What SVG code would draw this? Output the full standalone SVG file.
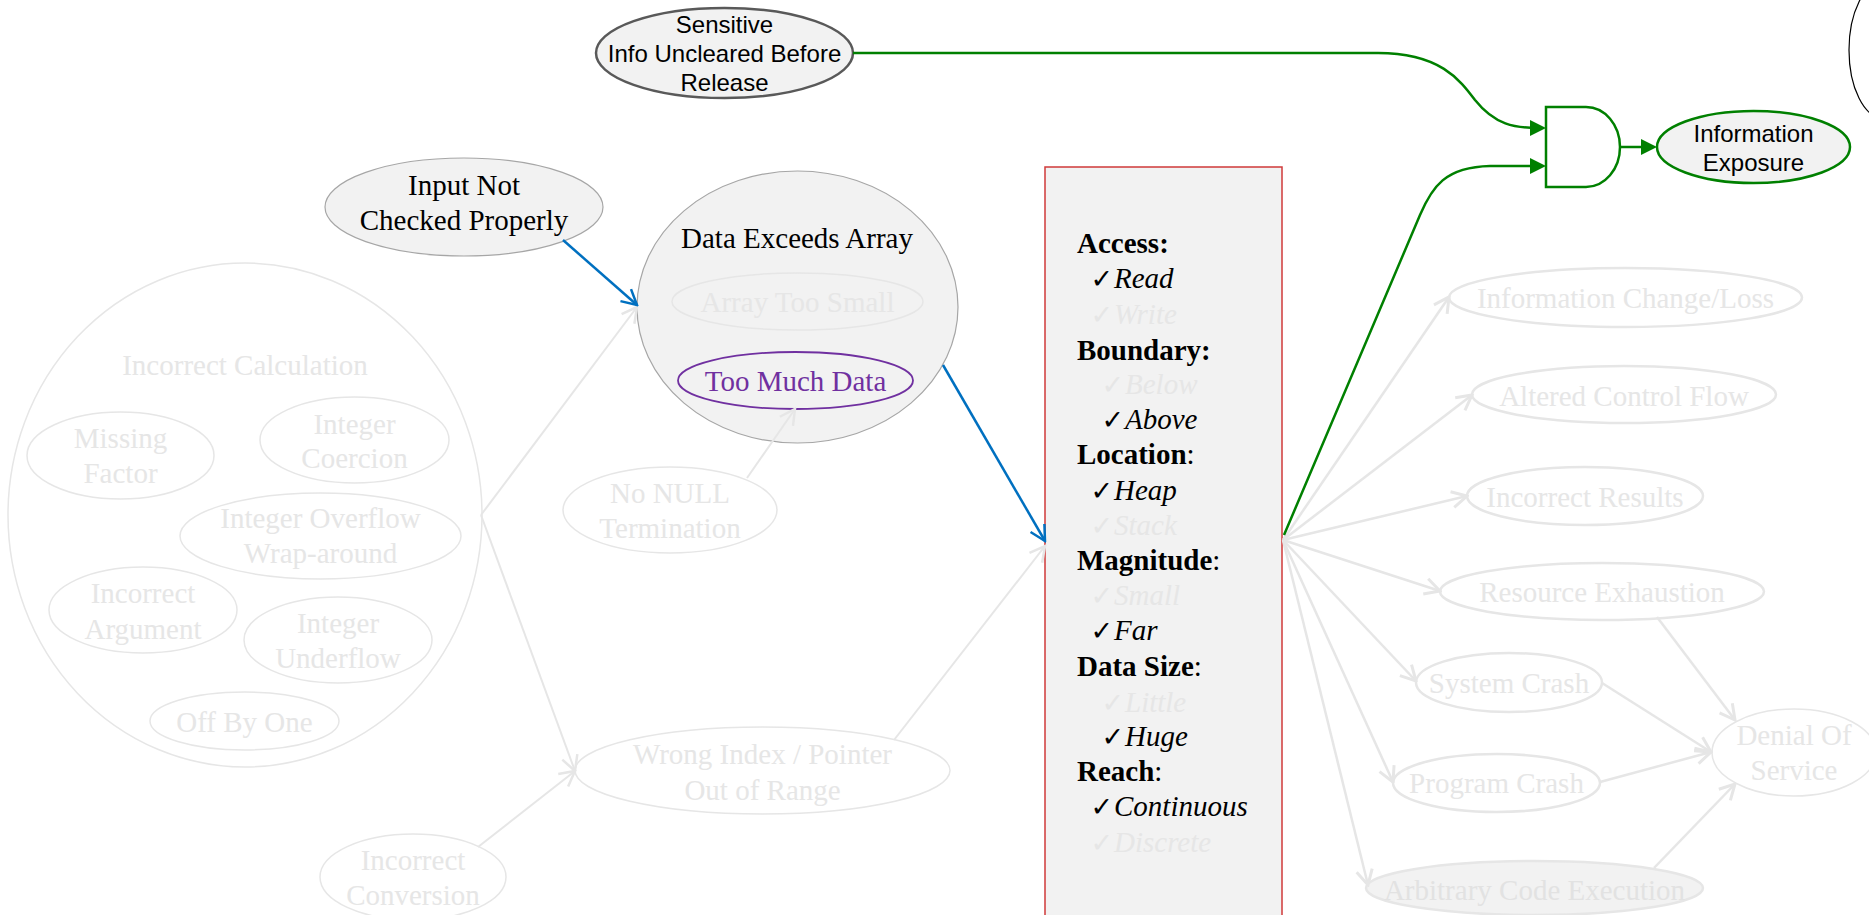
<svg xmlns="http://www.w3.org/2000/svg" width="1869" height="915" viewBox="0 0 1869 915">
<style>
.serif{font-family:"Liberation Serif","Times New Roman",serif;font-size:29px;}
.sans{font-family:"Liberation Sans",Arial,sans-serif;font-size:24px;fill:#000;}
.fadeT{fill:#e6e6e6;}
.fadeE{fill:none;stroke:#e6e6e6;stroke-width:1.5;}
.fadeE2{fill:none;stroke:#e6e6e6;stroke-width:2.5;}
.gl{fill:none;stroke:#e6e6e6;stroke-width:2;marker-end:url(#og);}
.gl2{fill:none;stroke:#e6e6e6;stroke-width:2.5;marker-end:url(#og2);}
.bl{fill:none;stroke:#0070c0;stroke-width:2.5;marker-end:url(#ob);}
.gr{fill:none;stroke:#008000;stroke-width:2.5;}
.grA{marker-end:url(#gf);}
.b{font-weight:bold;}
.i{font-style:italic;}
.chk{font-family:"DejaVu Sans",sans-serif;font-size:27px;text-anchor:end;}
</style>
<defs>
<marker id="og" markerUnits="userSpaceOnUse" markerWidth="20" markerHeight="20" viewBox="0 0 20 20" refX="18" refY="10" orient="auto"><path d="M3,2 L18,10 L3,18" fill="none" stroke="#e6e6e6" stroke-width="2.5"/></marker>
<marker id="og2" markerUnits="userSpaceOnUse" markerWidth="20" markerHeight="20" viewBox="0 0 20 20" refX="18" refY="10" orient="auto"><path d="M3,2 L18,10 L3,18" fill="none" stroke="#e6e6e6" stroke-width="3"/></marker>
<marker id="ob" markerUnits="userSpaceOnUse" markerWidth="20" markerHeight="20" viewBox="0 0 20 20" refX="18" refY="10" orient="auto"><path d="M3,2 L18,10 L3,18" fill="none" stroke="#0070c0" stroke-width="2.5"/></marker>
<marker id="gf" markerUnits="userSpaceOnUse" markerWidth="16" markerHeight="16" viewBox="0 0 16 16" refX="8" refY="8" orient="auto"><path d="M0,0 L16,8 L0,16 Z" fill="#008000"/></marker>
</defs>
<rect width="1869" height="915" fill="#ffffff"/>

<!-- left cluster -->
<g id="incorrect-calculation">
<ellipse cx="245" cy="515" rx="237" ry="252" class="fadeE"/>
<text class="serif fadeT" x="245" y="375" text-anchor="middle">Incorrect Calculation</text>
</g>
<g id="missing-factor">
<ellipse cx="120.5" cy="455.5" rx="93.5" ry="43.5" class="fadeE"/>
<text class="serif fadeT" text-anchor="middle"><tspan x="120.5" y="448">Missing</tspan><tspan x="120.5" y="483">Factor</tspan></text>
</g>
<g id="integer-coercion">
<ellipse cx="354.5" cy="440" rx="94.5" ry="43" class="fadeE"/>
<text class="serif fadeT" text-anchor="middle"><tspan x="354.5" y="434">Integer</tspan><tspan x="354.5" y="468">Coercion</tspan></text>
</g>
<g id="integer-overflow">
<ellipse cx="320.5" cy="536" rx="140.5" ry="43" class="fadeE"/>
<text class="serif fadeT" text-anchor="middle"><tspan x="320.5" y="528">Integer Overflow</tspan><tspan x="320.5" y="563">Wrap-around</tspan></text>
</g>
<g id="incorrect-argument">
<ellipse cx="143" cy="610" rx="94" ry="43" class="fadeE"/>
<text class="serif fadeT" text-anchor="middle"><tspan x="143" y="603">Incorrect</tspan><tspan x="143" y="639">Argument</tspan></text>
</g>
<g id="integer-underflow">
<ellipse cx="338" cy="640" rx="94" ry="43" class="fadeE"/>
<text class="serif fadeT" text-anchor="middle"><tspan x="338" y="633">Integer</tspan><tspan x="338" y="668">Underflow</tspan></text>
</g>
<g id="off-by-one">
<ellipse cx="244.5" cy="721" rx="94.5" ry="29" class="fadeE"/>
<text class="serif fadeT" x="244.5" y="732" text-anchor="middle">Off By One</text>
</g>
<g id="incorrect-conversion">
<ellipse cx="413" cy="877" rx="93" ry="43" class="fadeE"/>
<text class="serif fadeT" text-anchor="middle"><tspan x="413" y="870">Incorrect</tspan><tspan x="413" y="905">Conversion</tspan></text>
</g>
<g id="no-null">
<ellipse cx="670" cy="510" rx="107" ry="43" class="fadeE"/>
<text class="serif fadeT" text-anchor="middle"><tspan x="670" y="503">No NULL</tspan><tspan x="670" y="538">Termination</tspan></text>
</g>
<g id="wrong-index">
<ellipse cx="762.5" cy="770.5" rx="187.5" ry="43.5" class="fadeE"/>
<text class="serif fadeT" text-anchor="middle"><tspan x="762.5" y="764">Wrong Index / Pointer</tspan><tspan x="762.5" y="800">Out of Range</tspan></text>
</g>

<g id="input-not-checked">
<ellipse cx="464" cy="207" rx="139" ry="49" fill="#f2f2f2" stroke="#a6a6a6" stroke-width="1.2"/>
<text class="serif" text-anchor="middle" fill="#000"><tspan x="464" y="195">Input Not</tspan><tspan x="464" y="230">Checked Properly</tspan></text>
</g>

<g id="data-exceeds-array">
<ellipse cx="797.5" cy="307" rx="160.5" ry="136" fill="#f2f2f2" stroke="#a6a6a6" stroke-width="1.2"/>
<text class="serif" x="797" y="248" text-anchor="middle" fill="#000">Data Exceeds Array</text>
<ellipse cx="797.5" cy="301.5" rx="125.5" ry="28.5" class="fadeE"/>
<text class="serif fadeT" x="797.5" y="312" text-anchor="middle">Array Too Small</text>
<ellipse cx="795.5" cy="380.5" rx="117.5" ry="28.5" fill="none" stroke="#7030a0" stroke-width="1.8"/>
<text class="serif" x="795.5" y="391" text-anchor="middle" fill="#7030a0">Too Much Data</text>
</g>

<g id="sensitive-info">
<ellipse cx="724.5" cy="53" rx="128.5" ry="45" fill="#f2f2f2" stroke="#595959" stroke-width="2.5"/>
<text class="sans" text-anchor="middle"><tspan x="724.5" y="33">Sensitive</tspan><tspan x="724.5" y="62">Info Uncleared Before</tspan><tspan x="724.5" y="91">Release</tspan></text>
</g>

<g id="and-gate">
<path d="M1546,107 H1586 A34,40 0 0 1 1586,187 H1546 Z" fill="#ffffff" stroke="#008000" stroke-width="2.5"/>
</g>

<g id="information-exposure">
<ellipse cx="1753.5" cy="147" rx="96.5" ry="36" fill="#f2f2f2" stroke="#008000" stroke-width="2.5"/>
<text class="sans" text-anchor="middle"><tspan x="1753.5" y="142">Information</tspan><tspan x="1753.5" y="171">Exposure</tspan></text>
</g>

<g id="offscreen-node">
<ellipse cx="1883" cy="50" rx="34" ry="68" fill="none" stroke="#000" stroke-width="1.2"/>
</g>

<g id="overflow-properties">
<rect x="1045" y="167" width="237" height="770" fill="#f2f2f2" stroke="#d03a3a" stroke-width="1.5"/>
<g class="serif">
<text x="1077" y="253" class="b">Access:</text>
<text x="1113" y="288" class="chk">✓</text><text x="1114" y="288" class="i">Read</text>
<text x="1113" y="324" class="chk fadeT">✓</text><text x="1114" y="324" class="i fadeT">Write</text>
<text x="1077" y="360" class="b">Boundary:</text>
<text x="1124" y="394" class="chk fadeT">✓</text><text x="1125" y="394" class="i fadeT">Below</text>
<text x="1124" y="429" class="chk">✓</text><text x="1125" y="429" class="i">Above</text>
<text x="1077" y="464"><tspan class="b">Location</tspan>:</text>
<text x="1113" y="500" class="chk">✓</text><text x="1114" y="500" class="i">Heap</text>
<text x="1113" y="535" class="chk fadeT">✓</text><text x="1114" y="535" class="i fadeT">Stack</text>
<text x="1077" y="570"><tspan class="b">Magnitude</tspan>:</text>
<text x="1113" y="605" class="chk fadeT">✓</text><text x="1114" y="605" class="i fadeT">Small</text>
<text x="1113" y="640" class="chk">✓</text><text x="1114" y="640" class="i">Far</text>
<text x="1077" y="676"><tspan class="b">Data Size</tspan>:</text>
<text x="1124" y="712" class="chk fadeT">✓</text><text x="1125" y="712" class="i fadeT">Little</text>
<text x="1124" y="746" class="chk">✓</text><text x="1125" y="746" class="i">Huge</text>
<text x="1077" y="781"><tspan class="b">Reach</tspan>:</text>
<text x="1113" y="816" class="chk">✓</text><text x="1114" y="816" class="i">Continuous</text>
<text x="1113" y="852" class="chk fadeT">✓</text><text x="1114" y="852" class="i fadeT">Discrete</text>
</g>
</g>

<!-- right cluster -->
<g id="info-change-loss">
<ellipse cx="1625.5" cy="297.5" rx="176.5" ry="29.5" class="fadeE2"/>
<text class="serif fadeT" x="1625.5" y="308" text-anchor="middle">Information Change/Loss</text>
</g>
<g id="altered-control-flow">
<ellipse cx="1624" cy="394.5" rx="152" ry="28.5" class="fadeE2"/>
<text class="serif fadeT" x="1624" y="406" text-anchor="middle">Altered Control Flow</text>
</g>
<g id="incorrect-results">
<ellipse cx="1585" cy="496" rx="118" ry="29" class="fadeE2"/>
<text class="serif fadeT" x="1585" y="507" text-anchor="middle">Incorrect Results</text>
</g>
<g id="resource-exhaustion">
<ellipse cx="1602" cy="591.5" rx="162" ry="28.5" class="fadeE2"/>
<text class="serif fadeT" x="1602" y="602" text-anchor="middle">Resource Exhaustion</text>
</g>
<g id="system-crash">
<ellipse cx="1509" cy="682.5" rx="93" ry="29.5" class="fadeE2"/>
<text class="serif fadeT" x="1509" y="693" text-anchor="middle">System Crash</text>
</g>
<g id="program-crash">
<ellipse cx="1496.5" cy="783" rx="103.5" ry="29" class="fadeE2"/>
<text class="serif fadeT" x="1496.5" y="793" text-anchor="middle">Program Crash</text>
</g>
<g id="arbitrary-code-execution">
<ellipse cx="1534.5" cy="888" rx="168.5" ry="27" fill="#f2f2f2" stroke="#e6e6e6" stroke-width="2.5"/>
<text class="serif" x="1534.5" y="900" text-anchor="middle" fill="#e2e2e2">Arbitrary Code Execution</text>
</g>
<g id="denial-of-service">
<ellipse cx="1794" cy="752.5" rx="82" ry="43.5" class="fadeE"/>
<text class="serif fadeT" text-anchor="middle"><tspan x="1794" y="745">Denial Of</tspan><tspan x="1794" y="780">Service</tspan></text>
</g>

<g id="connectors">
<path class="gl" d="M481,515 L637,307"/>
<path class="gl" d="M481,515 L575,771"/>
<path class="gl" d="M478,847 L575,771"/>
<path class="gl" d="M747,478 L795,409"/>
<path class="gl" d="M894,740 L1045,546"/>
<path class="bl" d="M563,240 L637,305"/>
<path class="bl" d="M943,365 L1045,541"/>
<path class="gl2" d="M1283,540 L1449,297"/>
<path class="gl2" d="M1283,540 L1472,395"/>
<path class="gl2" d="M1283,540 L1467,496"/>
<path class="gl2" d="M1283,540 L1440,591"/>
<path class="gl2" d="M1283,540 L1416,681"/>
<path class="gl2" d="M1283,540 L1393,782"/>
<path class="gl2" d="M1283,540 L1368,885"/>
<path class="gl2" d="M1657,617 L1735,720"/>
<path class="gl2" d="M1602,683 L1711,752"/>
<path class="gl2" d="M1600,782 L1711,752"/>
<path class="gl2" d="M1654,868 L1735,784"/>
<path class="gr grA" d="M853,53 H1378 C1440,53 1460,80 1475,100 C1495,125 1515,128 1538,128"/>
<path class="gr grA" d="M1284,535 L1420,215 C1432,187 1445,167 1490,166 L1538,166"/>
<path class="gr grA" d="M1620,147 L1649,147"/>
</g>
</svg>
